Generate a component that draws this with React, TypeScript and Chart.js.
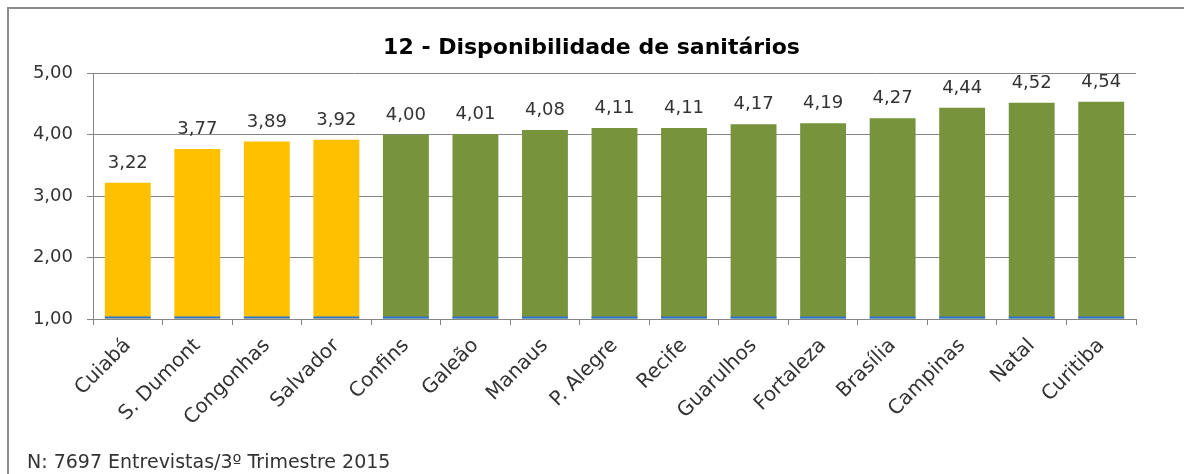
import React, { useEffect, useRef } from 'react';
import { Chart, registerables } from 'chart.js';

Chart.register(...registerables);

const chartTitle = '12 - Disponibilidade de sanitários';
const footnote = 'N: 7697 Entrevistas/3º Trimestre 2015';

const categories = [
  'Cuiabá', 'S. Dumont', 'Congonhas', 'Salvador', 'Confins', 'Galeão', 'Manaus',
  'P. Alegre', 'Recife', 'Guarulhos', 'Fortaleza', 'Brasília', 'Campinas', 'Natal', 'Curitiba',
];
const values = [3.22, 3.77, 3.89, 3.92, 4.0, 4.01, 4.08, 4.11, 4.11, 4.17, 4.19, 4.27, 4.44, 4.52, 4.54];
const barColors = [
  '#FFC000', '#FFC000', '#FFC000', '#FFC000', '#77933C', '#77933C', '#77933C', '#77933C',
  '#77933C', '#77933C', '#77933C', '#77933C', '#77933C', '#77933C', '#77933C',
];
const yTickValues = [1, 2, 3, 4, 5];

const fmt = (v: number) => v.toFixed(2).replace('.', ',');

const FONT = '"DejaVu Sans", sans-serif';
const TEXT = '#333333';
const GRID = '#868686';
const BASE_LINE = '#2E75CF';

const valueLabels = {
  id: 'valueLabels',
  afterLayout(chart: any) {
    // the title in the original sits a little right of the canvas centre
    if (chart.titleBlock) chart.titleBlock.left += 20;
  },
  afterDatasetsDraw(chart: any) {
    const ctx = chart.ctx;
    const meta = chart.getDatasetMeta(0);
    ctx.save();
    // thin blue base line under each bar
    ctx.strokeStyle = BASE_LINE;
    ctx.lineWidth = 2;
    meta.data.forEach((el: any) => {
      const props = el.getProps(['x', 'width', 'base'], true);
      ctx.beginPath();
      ctx.moveTo(props.x - props.width / 2, props.base - 1);
      ctx.lineTo(props.x + props.width / 2, props.base - 1);
      ctx.stroke();
    });
    ctx.font = `18px ${FONT}`;
    ctx.fillStyle = TEXT;
    ctx.textAlign = 'center';
    ctx.textBaseline = 'alphabetic';
    meta.data.forEach((el: any, i: number) => {
      ctx.fillText(fmt(values[i]), el.x, el.y - 15);
    });
    ctx.restore();
  },
};

export default function App() {
  const ref = useRef<HTMLCanvasElement | null>(null);

  useEffect(() => {
    if (!ref.current) return;
    const chart = new Chart(ref.current, {
      type: 'bar',
      data: {
        labels: categories,
        datasets: [
          {
            data: values,
            backgroundColor: barColors,
            borderWidth: 0,
            base: 1,
            barPercentage: 0.66,
            categoryPercentage: 1,
          } as any,
        ],
      },
      options: {
        animation: false,
        responsive: false,
        maintainAspectRatio: false,
        layout: { padding: { left: 18, right: 48, top: 0, bottom: 0 } },
        plugins: {
          legend: { display: false },
          tooltip: { enabled: false },
          title: {
            display: true,
            text: chartTitle,
            color: '#000000',
            font: { family: FONT, size: 22, weight: 'bold' },
            padding: { top: 26, bottom: 12 },
          },
          subtitle: {
            display: true,
            text: footnote,
            position: 'bottom',
            align: 'start',
            color: TEXT,
            font: { family: FONT, size: 19 },
            padding: { top: 8, bottom: 0 },
          },
        },
        scales: {
          x: {
            grid: {
              offset: true,
              drawOnChartArea: false,
              drawTicks: true,
              tickLength: 6,
              color: GRID,
            },
            border: { display: true, color: GRID },
            ticks: {
              autoSkip: false,
              maxRotation: 45,
              minRotation: 45,
              padding: 9,
              color: TEXT,
              font: { family: FONT, size: 20 },
            },
            afterFit: (scale: any) => {
              scale.height = 124.2;
            },
          },
          y: {
            min: 1,
            max: 5,
            afterBuildTicks: (scale: any) => {
              scale.ticks = yTickValues.map((v) => ({ value: v }));
            },
            grid: { color: GRID, tickLength: 6, drawTicks: true },
            border: { display: true, color: GRID },
            ticks: {
              padding: 14,
              color: TEXT,
              font: { family: FONT, size: 18 },
              callback: (v: any) => fmt(Number(v)),
            },
            afterFit: (scale: any) => {
              scale.width = 66;
            },
          },
        },
      },
      plugins: [valueLabels],
    });
    return () => chart.destroy();
  }, []);

  return (
    <div style={{ position: 'fixed', left: 0, top: 0, width: 1184, height: 474, background: '#fff' }}>
      <div style={{ position: 'absolute', left: 7, top: 7, width: 1177, height: 2, background: '#8c8c8c' }} />
      <div style={{ position: 'absolute', left: 7, top: 7, width: 2, height: 467, background: '#8c8c8c' }} />
      <canvas
        ref={ref}
        width={1175}
        height={465}
        style={{ position: 'absolute', left: 9, top: 9, width: 1175, height: 465 }}
      />
    </div>
  );
}
